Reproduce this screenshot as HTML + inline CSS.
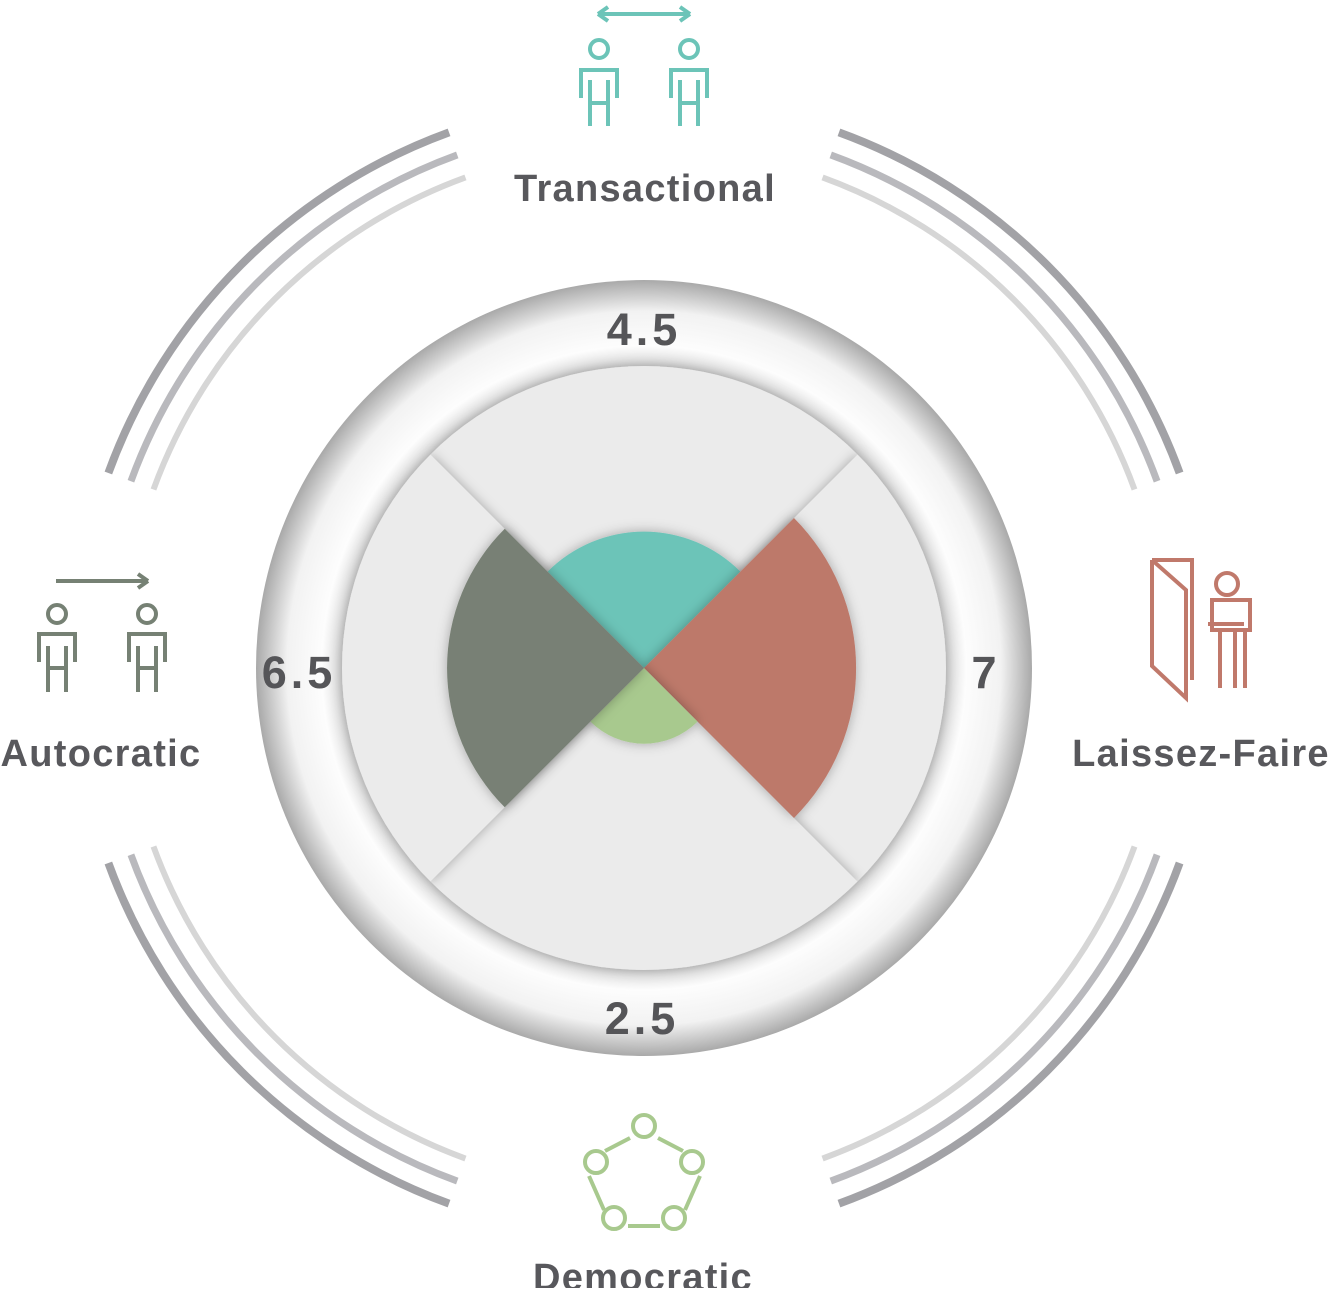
<!DOCTYPE html>
<html><head><meta charset="utf-8"><style>
body{margin:0;background:#fff;width:1329px;height:1288px;overflow:hidden}
svg text{font-family:"Liberation Sans",sans-serif;font-weight:bold}
</style></head><body>
<svg id="chart" width="1329" height="1288" viewBox="0 0 1329 1288" xmlns="http://www.w3.org/2000/svg">
<defs>
<radialGradient id="ringG" cx="0.5" cy="0.5" r="0.5">
<stop offset="0.76" stop-color="#cccccc"/>
<stop offset="0.83" stop-color="#fdfdfd"/>
<stop offset="0.92" stop-color="#f2f2f2"/>
<stop offset="1" stop-color="#a9a9a9"/>
</radialGradient>
<filter id="sh" x="-20%" y="-20%" width="140%" height="140%"><feDropShadow dx="0" dy="0" stdDeviation="6" flood-color="#000" flood-opacity="0.3"/></filter>
</defs>
<g id="arcs"></g>
<circle cx="644" cy="668" r="388" fill="url(#ringG)"/>
<g id="bg"></g>
<g id="wedges"></g>
<g id="labels"></g>
<g fill="none" stroke="#6cc4b8" stroke-width="4">
<path d="M598 14H690M598 14l10-7M598 14l10 7M690 14l-10-7M690 14l-10 7"/>
<circle cx="599" cy="49" r="9"/><path d="M581 98V70h36v28M590 126V80M608 126V80M590 103h18"/>
<circle cx="689" cy="49" r="9"/><path d="M671 98V70h36v28M680 126V80M698 126V80M680 103h18"/>
</g>
<g fill="none" stroke="#768174" stroke-width="4">
<path d="M56 581H148M148 581l-10-7M148 581l-10 7"/>
<circle cx="57" cy="614" r="9"/><path d="M39 662V634h36v28M48 692V646M66 692V646M48 668h18"/>
<circle cx="147" cy="614" r="9"/><path d="M129 662V634h36v28M138 692V646M156 692V646M138 668h18"/>
</g>
<g fill="none" stroke="#c0796b" stroke-width="4">
<path d="M1152 560h40v120M1152 560v106l34 32V590l-34-30"/>
<circle cx="1227" cy="584" r="11"/><path d="M1212 600h38v30h-38zM1208 624h36M1220 688V632M1235 688V632M1245 688V632"/>
</g>
<g fill="none" stroke="#a8c98e" stroke-width="4">
<circle cx="644" cy="1126" r="11"/><circle cx="692" cy="1162" r="11"/><circle cx="674" cy="1218" r="11"/><circle cx="614" cy="1218" r="11"/><circle cx="596" cy="1162" r="11"/>
<path d="M630 1138l-25 13M658 1138l25 13M700 1176l-15 34M589 1176l15 34M628 1226h32"/>
</g>
</svg>
<script>
const categories=["Transactional","Laissez-Faire","Democratic","Autocratic"];
const values=[4.5,7,2.5,6.5];
const colors=["#6cc4b8","#bd796b","#a8c98e","#788074"];
const cx=644,cy=668,scale=30.3,bgR=302;
const NS="http://www.w3.org/2000/svg";
function rScale(v){return v*scale;}
function pt(r,a){const t=(a-90)*Math.PI/180;return [cx+r*Math.cos(t),cy+r*Math.sin(t)];}
function sector(r,a0,a1){const p0=pt(r,a0),p1=pt(r,a1);return `M${cx},${cy}L${p0[0]},${p0[1]}A${r},${r} 0 0 1 ${p1[0]},${p1[1]}Z`;}
function arc(r,a0,a1){const p0=pt(r,a0),p1=pt(r,a1);return `M${p0[0]},${p0[1]}A${r},${r} 0 0 1 ${p1[0]},${p1[1]}`;}
function mk(tag,attrs,parent){const e=document.createElementNS(NS,tag);for(const k in attrs)e.setAttribute(k,attrs[k]);parent.appendChild(e);return e;}
const arcsG=document.getElementById('arcs');
[[570,"#a2a2a6",8],[546,"#b9b9bd",7],[522,"#d6d6d6",6]].forEach(([r,c,w])=>{
 [45,135,225,315].forEach(d=>{
  const e=mk('path',{d:arc(r,d-25,d+25),fill:'none',stroke:c,'stroke-width':w},arcsG);
  
  
 });
});
const bg=document.getElementById('bg');
categories.forEach((c,i)=>{
 const mid=i*90;
 const e=mk('path',{d:sector(bgR,mid-45,mid+45),fill:'#ebebeb',filter:'url(#sh)'},bg);
 
 
});
const wg=document.getElementById('wedges');
categories.forEach((c,i)=>{
 const mid=i*90;
 const e=mk('path',{d:sector(rScale(values[i]),mid-45,mid+45),fill:colors[i],filter:'url(#sh)'},wg);
 
 
});
const lg=document.getElementById('labels');
const valuePos=[[644,345],[986,688],[642,1034],[299,688]];
const catPos=[[645,201],[1201,766],[643,1290],[101,766]];
categories.forEach((c,i)=>{
 const v=mk('text',{x:valuePos[i][0],y:valuePos[i][1],'text-anchor':'middle','font-size':45,'letter-spacing':4,fill:'#555558'},lg);
 v.textContent=String(values[i]);
 
 
 const t=mk('text',{x:catPos[i][0],y:catPos[i][1],'text-anchor':'middle','font-size':38,'letter-spacing':1.3,fill:'#58585c'},lg);
 t.textContent=c;
 
 
});
</script>
</body></html>
